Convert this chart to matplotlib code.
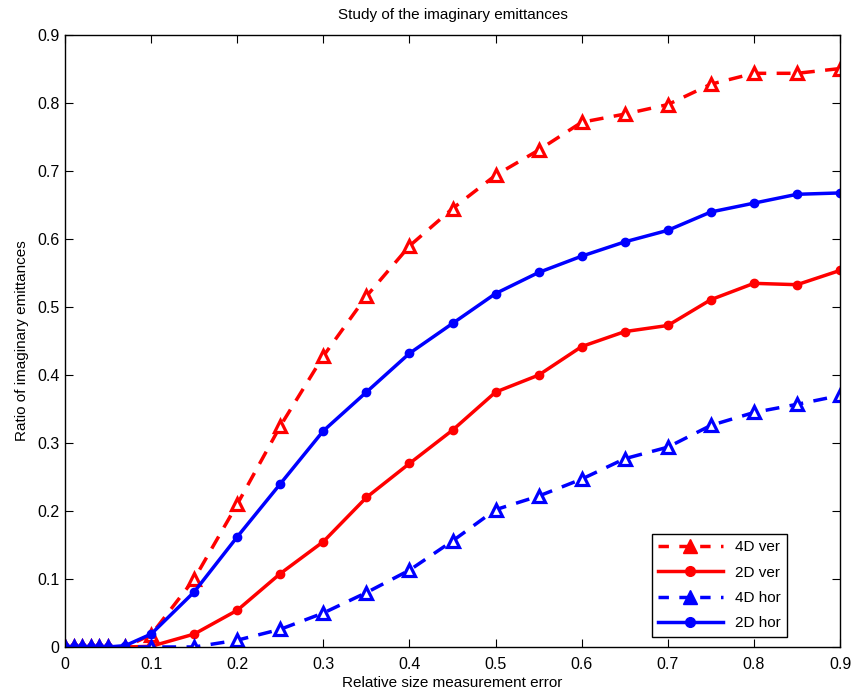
import matplotlib
matplotlib.use('Agg')
from matplotlib import pyplot as plt
from matplotlib.lines import Line2D

plt.rcParams['font.family'] = ['Liberation Sans', 'DejaVu Sans']

# Relative size measurement error #
err = [0, 0.01, 0.02, 0.03, 0.04, 0.05, 0.07, 0.1, 0.15, 0.2, 0.25, 0.3, 0.35,
       0.4, 0.45, 0.5, 0.55, 0.6, 0.65, 0.7, 0.75, 0.8, 0.85, 0.9]

# Ratio of imaginary emittances per case #
ver_4d = [0, 0, 0, 0, 0, 0, 0, 0.018, 0.10, 0.21, 0.325, 0.428, 0.516, 0.59,
          0.645, 0.694, 0.731, 0.772, 0.784, 0.798, 0.828, 0.844, 0.844, 0.851]
ver_2d = [0, 0, 0, 0, 0, 0, 0, 0.001, 0.019, 0.054, 0.108, 0.155, 0.22, 0.27,
          0.319, 0.375, 0.40, 0.442, 0.464, 0.473, 0.511, 0.535, 0.533, 0.554]
hor_4d = [0, 0, 0, 0, 0, 0, 0, 0, 0, 0.01, 0.026, 0.05, 0.08, 0.113,
          0.156, 0.202, 0.222, 0.247, 0.277, 0.294, 0.326, 0.345, 0.357, 0.37]
hor_2d = [0, 0, 0, 0, 0, 0, 0.002, 0.019, 0.081, 0.162, 0.24, 0.318, 0.375,
          0.432, 0.476, 0.52, 0.551, 0.575, 0.596, 0.613, 0.64, 0.653, 0.666, 0.668]

labels = ['4D ver', '2D ver', '4D hor', '2D hor']

fig = plt.figure(figsize=(8.52, 6.91), dpi=100)
ax = fig.add_axes([0.0763, 0.0637, 0.9097, 0.8853])

ax.plot(err, ver_4d, color='red', linestyle='--', dashes=(4, 3), linewidth=2.5,
        marker='^', markersize=9, markerfacecolor='white', markeredgewidth=2.3)
ax.plot(err, ver_2d, color='red', linestyle='-', linewidth=2.5,
        marker='o', markersize=6)
ax.plot(err, hor_4d, color='blue', linestyle='--', dashes=(4, 3), linewidth=2.5,
        marker='^', markersize=9, markerfacecolor='white', markeredgewidth=2.3)
ax.plot(err, hor_2d, color='blue', linestyle='-', linewidth=2.5,
        marker='o', markersize=6)

# Legend uses filled markers #
handles = [
    Line2D([], [], color='red', linestyle='--', dashes=(3, 3), linewidth=2.5, marker='^', markersize=10),
    Line2D([], [], color='red', linestyle='-', linewidth=2.5, marker='o', markersize=7),
    Line2D([], [], color='blue', linestyle='--', dashes=(3, 3), linewidth=2.5, marker='^', markersize=10),
    Line2D([], [], color='blue', linestyle='-', linewidth=2.5, marker='o', markersize=7),
]
leg = ax.legend(handles, labels, loc='lower right', bbox_to_anchor=(0.935, 0.012),
                fontsize=11, handlelength=4.2, fancybox=False, framealpha=1,
                edgecolor='black', borderaxespad=0.2, labelspacing=0.75)
leg.get_frame().set_linewidth(1.0)

ax.set_xlim(0, 0.9)
ax.set_ylim(0, 0.9)
ax.set_xticks([0, 0.1, 0.2, 0.3, 0.4, 0.5, 0.6, 0.7, 0.8, 0.9])
ax.set_xticklabels(['0', '0.1', '0.2', '0.3', '0.4', '0.5', '0.6', '0.7', '0.8', '0.9'])
ax.set_yticks([0, 0.1, 0.2, 0.3, 0.4, 0.5, 0.6, 0.7, 0.8, 0.9])
ax.set_yticklabels(['0', '0.1', '0.2', '0.3', '0.4', '0.5', '0.6', '0.7', '0.8', '0.9'])
ax.tick_params(direction='in', top=True, right=True, length=6, labelsize=11.5, pad=4)
ax.tick_params(axis='x', pad=7)
for s in ax.spines.values():
    s.set_linewidth(1.0)

ax.set_xlabel('Relative size measurement error', fontsize=11, labelpad=3)
ax.set_ylabel('Ratio of imaginary emittances', fontsize=11, labelpad=6)
ax.set_title('Study of the imaginary emittances', fontsize=11, pad=12)

fig.savefig('out.png', dpi=100)
